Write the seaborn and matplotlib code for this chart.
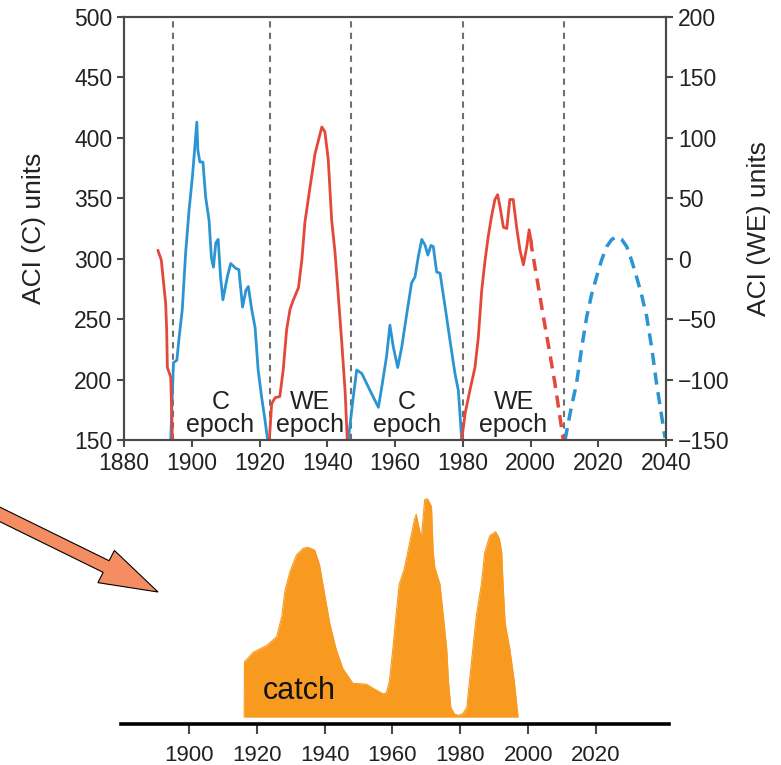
import numpy as np
import matplotlib
matplotlib.use("Agg")
import matplotlib.pyplot as plt
from matplotlib.patches import FancyArrow
import seaborn as sns

sns.set_style("ticks")
plt.rcParams['font.family'] = ['Liberation Sans', 'DejaVu Sans']

BLUE = "#2b95d3"
RED = "#e4483a"
ORANGE = "#f89a1f"
GREY = "#4a4a4a"

# ACI (C) - blue, left axis units
c1_year = [1893.8, 1894.6, 1895.6, 1896.2, 1897.2, 1898.2, 1899.2, 1900.2, 1900.9, 1901.5,
           1901.8, 1902.4, 1903.3, 1904.1, 1905.1, 1905.8, 1906.4, 1907.1, 1907.8, 1908.5,
           1909.2, 1910.5, 1911.5, 1913.0, 1913.9, 1915.0, 1916.0, 1916.7, 1917.7, 1918.7,
           1919.6, 1920.6, 1921.6, 1922.3, 1922.6]
c1_val = [150, 214, 216, 233, 258, 305, 340, 368, 392, 413,
          390, 380, 380, 351, 332, 301, 293, 313, 316, 285,
          266, 285, 296, 292, 291, 260, 274, 277, 258, 243,
          208, 186, 167, 152, 150]

c2_year = [1946.2, 1947.7, 1948.7, 1950.2, 1952.1, 1955.1, 1956.1, 1957.5, 1958.5, 1959.5,
           1960.8, 1962.0, 1963.5, 1964.9, 1965.9, 1966.9, 1967.9, 1968.9, 1969.7, 1970.6,
           1971.3, 1972.3, 1973.3, 1974.8, 1976.2, 1977.7, 1978.7, 1979.7]
c2_val = [150, 186, 208, 205, 194, 177, 194, 219, 245, 227,
          210, 227, 255, 280, 285, 302, 316, 311, 303, 311,
          310, 289, 288, 260, 233, 205, 191, 150]

# projected C cycle (dashed)
c3_year = [2010.2, 2011.9, 2013.6, 2015.1, 2016.6, 2018.0, 2019.5, 2021.0, 2022.5, 2024.0,
           2025.4, 2026.9, 2028.4, 2029.8, 2031.3, 2032.8, 2034.3, 2035.8, 2037.2, 2039.7]
c3_val = [150, 175, 197, 226, 252, 270, 285, 299, 310, 316,
          318, 316, 310, 299, 285, 270, 252, 226, 197, 152]

# ACI (WE) - red, right axis units
we1_year = [1890.0, 1891.0, 1892.3, 1892.6, 1892.8, 1893.8, 1894.3]
we1_val = [7, -1, -37, -59, -90, -98, -150]

we2_year = [1922.9, 1923.6, 1924.6, 1926.0, 1927.0, 1928.0, 1929.0, 1930.0, 1931.5, 1932.5,
            1933.4, 1934.9, 1936.4, 1937.4, 1938.4, 1939.3, 1940.3, 1941.3, 1942.3, 1943.3,
            1944.3, 1945.3, 1945.9]
we2_val = [-150, -120, -115, -114, -92, -59, -42, -34, -24, -1,
           30, 59, 87, 98, 109, 105, 82, 32, 5, -32,
           -70, -111, -150]

we3_year = [1979.7, 1980.7, 1982.1, 1983.6, 1984.6, 1985.6, 1986.6, 1987.5, 1988.5, 1989.5,
            1990.3, 1991.0, 1992.0, 1993.0, 1993.9, 1994.9, 1995.9, 1996.9, 1997.9, 1998.9,
            1999.6, 2000.1]
we3_val = [-150, -128, -109, -90, -65, -26, -1, 18, 35, 49,
           53, 43, 26, 25, 49, 49, 26, 7, -5, 10,
           24, 16]

# projected WE cycle (dashed)
we4_year = [2000.1, 2000.3, 2002.0, 2003.8, 2005.5, 2007.2, 2009.7]
we4_val = [16, 10, -18, -48, -75, -103, -150]

boundaries = [1894.5, 1923, 1947, 1980, 2010]
epochs = [(1908.5, "C\nepoch"), (1935, "WE\nepoch"), (1963.5, "C\nepoch"), (1995, "WE\nepoch")]

# catch (arbitrary units)
catch_year = [1916.3, 1916.4, 1919.0, 1923.0, 1925.9, 1927.4, 1928.3, 1929.8, 1931.7, 1933.7,
              1935.1, 1937.1, 1938.5, 1940.0, 1941.5, 1943.4, 1945.4, 1948.3, 1952.3, 1954.2,
              1957.2, 1958.2, 1959.1, 1960.1, 1961.0, 1962.0, 1963.5, 1965.5, 1966.5, 1967.0,
              1968.5, 1969.5, 1970.3, 1971.5, 1972.0, 1972.5, 1974.0, 1975.0, 1976.0, 1976.5,
              1977.2, 1978.3, 1979.5, 1980.8, 1981.9, 1983.2, 1984.7, 1986.2, 1987.2, 1988.7,
              1990.4, 1991.5, 1992.2, 1992.6, 1993.2, 1994.6, 1995.9, 1996.9, 1997.0]
catch_val = [0, 57, 67, 74, 83, 104, 130, 150, 167, 174,
             175, 172, 157, 127, 97, 70, 50, 35, 34, 30,
             24, 25, 37, 70, 103, 137, 153, 187, 204, 209,
             184, 224, 225, 217, 170, 154, 137, 104, 70, 37,
             10, 3, 2, 4, 10, 54, 104, 137, 170, 187,
             191, 184, 170, 137, 97, 70, 37, 4, 0]

fig = plt.figure(figsize=(7.81, 7.65), dpi=100)
W, H = 781, 765

ax = fig.add_axes([124 / W, 1 - 440 / H, 542 / W, 423 / H])
ax2 = ax.twinx()

for x in boundaries:
    ax.axvline(x, color="#707070", lw=1.5, ls=(0, (3, 2.5)), zorder=1)

sns.lineplot(x=c1_year, y=c1_val, ax=ax, color=BLUE, lw=2, sort=False)
sns.lineplot(x=c2_year, y=c2_val, ax=ax, color=BLUE, lw=2, sort=False)
sns.lineplot(x=c3_year, y=c3_val, ax=ax, color=BLUE, lw=2.5, sort=False)
ax.lines[-1].set_linestyle((0, (3.5, 2.2)))

sns.lineplot(x=we1_year, y=we1_val, ax=ax2, color=RED, lw=2, sort=False)
sns.lineplot(x=we2_year, y=we2_val, ax=ax2, color=RED, lw=2, sort=False)
sns.lineplot(x=we3_year, y=we3_val, ax=ax2, color=RED, lw=2, sort=False)
sns.lineplot(x=we4_year, y=we4_val, ax=ax2, color=RED, lw=2.5, sort=False)
ax2.lines[-1].set_linestyle((0, (3.5, 2.2)))

for x, label in epochs:
    ax.text(x, 172, label, ha="center", va="center", fontsize=18,
            color="#222222", linespacing=0.95)

ax.set_xlim(1880, 2040)
ax.set_ylim(150, 500)
ax2.set_ylim(-150, 200)
ax.set_xticks(np.arange(1880, 2041, 20))
ax.set_yticks(np.arange(150, 501, 50))
ax2.set_yticks(np.arange(-150, 201, 50))
ax2.set_yticklabels([str(v).replace("-", "\u2212") for v in range(-150, 201, 50)])

for a in (ax, ax2):
    for s in a.spines.values():
        s.set_color(GREY)
        s.set_linewidth(1.5)
    a.tick_params(labelsize=16.5, colors=GREY, labelcolor="#222222", width=1.5, length=5)
ax.set_ylabel("ACI (C) units", fontsize=19, color="#222222", labelpad=20)
ax2.set_ylabel("ACI (WE) units", fontsize=19, color="#222222", labelpad=13)

# lower panel: catch
bx = fig.add_axes([121 / W, 1 - 724 / H, 548 / W, 234 / H])
sns.lineplot(x=catch_year, y=catch_val, ax=bx, color=ORANGE, lw=0.8, sort=False)
bx.fill_between(catch_year, 0, catch_val, color=ORANGE, lw=0)
bx.text(1932.5, 27, "catch", ha="center", va="center", fontsize=22, color="#111111")
bx.set_xlim(1880, 2041.5)
bx.set_ylim(-7, 234)
bx.set_xticks(np.arange(1900, 2021, 20))
bx.set_yticks([])
for side in ("left", "right", "top"):
    bx.spines[side].set_visible(False)
bx.spines["bottom"].set_color("black")
bx.spines["bottom"].set_linewidth(2.6)
bx.tick_params(axis="x", labelsize=16, colors=GREY, labelcolor="#222222", width=1.5,
               length=7, pad=8)

# pointing arrow
arrow = FancyArrow(-5 / W, 1 - 512 / H, 163 / W, -(592 - 512) / H,
                   width=13 / H, head_width=36 / H, head_length=58 / W,
                   length_includes_head=True, transform=fig.transFigure,
                   facecolor="#f58d62", edgecolor="black", lw=0.8)
fig.patches.append(arrow)

fig.savefig("out.png", dpi=100)
